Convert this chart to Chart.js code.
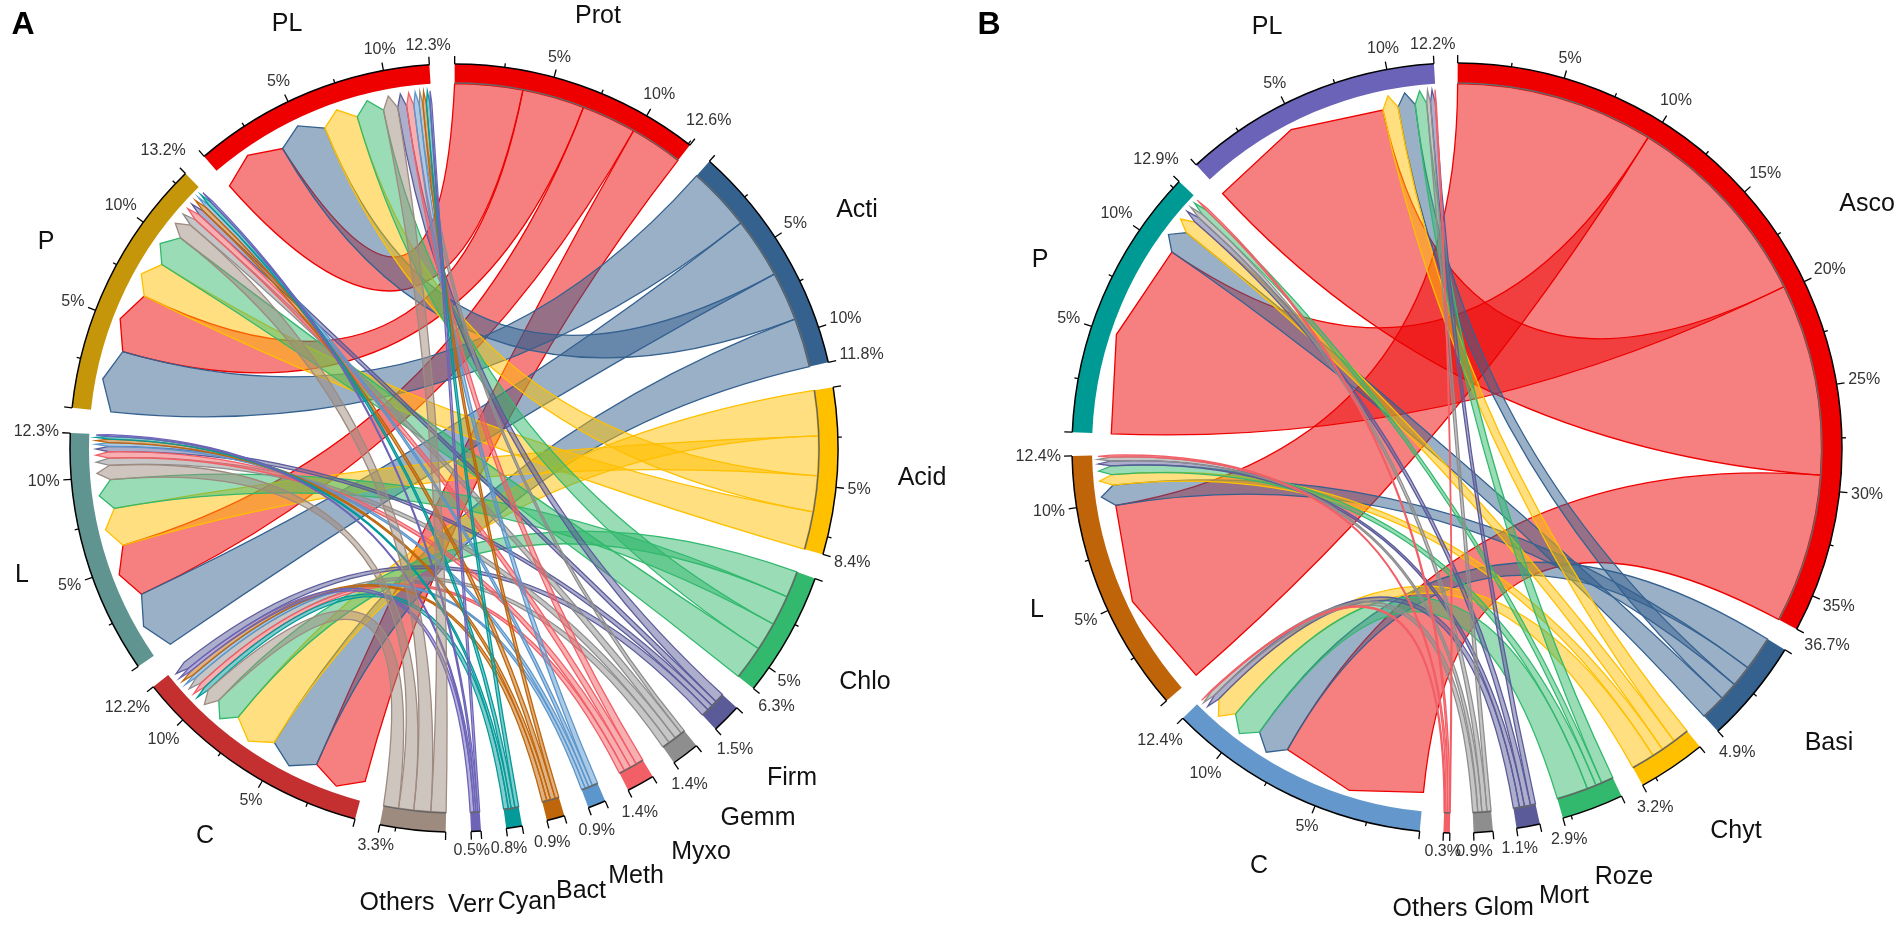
<!DOCTYPE html>
<html>
<head>
<meta charset="utf-8">
<title>Chord A B</title>
<script src="https://cdn.jsdelivr.net/npm/chart.js@4/dist/chart.umd.min.js"></script>
<style>
  html, body { margin: 0; padding: 0; background: #fff; overflow: hidden; }
  canvas { position: absolute; top: 0; }
  #chartA { left: 0; }
  #chartB { left: 960px; }
</style>
</head>
<body>
<canvas id="chartA" width="960" height="925"></canvas>
<canvas id="chartB" width="942" height="925"></canvas>
<script>
// panel A - sectors clockwise from the top
const aSectors = ['Prot','Acti','Acid','Chlo','Firm','Gemm','Myxo','Meth','Bact','Cyan','Verr','Others','C','L','P','PL'];
const aPercent = [12.6,11.8,8.4,6.3,1.5,1.4,1.4,0.9,0.9,0.8,0.5,3.3,12.2,12.3,13.2,12.3];
const aColors = ['#ee0000','#35618f','#ffc000','#33b96e','#5b5b9a','#8e8e8e','#f25f66','#5b96cc','#c0660a','#059a9a','#6d64b8','#9e8b80','#c43030','#5f9490','#c5960a','#ee0000'];
// links of each sample, clockwise inside its sector
const aOrderPL = ['Prot','Acti','Acid','Chlo','Others','Firm','Myxo','Meth','Gemm','Bact','Cyan','Verr'];
const aFlowPL = [3.6,2.6,1.9,1.5,0.8,0.5,0.4,0.3,0.2,0.2,0.2,0.1];
const aOrderP = ['Acti','Prot','Acid','Chlo','Others','Gemm','Myxo','Firm','Bact','Meth','Cyan','Verr'];
const aFlowP = [3.4,3.3,2.0,1.8,0.9,0.4,0.35,0.3,0.25,0.2,0.2,0.1];
const aOrderL = ['Acti','Prot','Acid','Chlo','Others','Gemm','Myxo','Firm','Meth','Bact','Cyan','Verr'];
const aFlowL = [3.2,2.9,2.1,1.6,0.8,0.4,0.35,0.3,0.2,0.2,0.15,0.1];
const aOrderC = ['Prot','Acti','Acid','Chlo','Others','Cyan','Myxo','Gemm','Meth','Bact','Verr','Firm'];
const aFlowC = [2.8,2.6,2.4,1.4,0.8,0.25,0.3,0.4,0.2,0.25,0.2,0.4];

// panel B
const bSectors = ['Asco','Basi','Chyt','Roze','Mort','Glom','Others','C','L','P','PL'];
const bPercent = [36.7,4.9,3.2,2.9,1.1,0.9,0.3,12.4,12.4,12.9,12.2];
const bColors = ['#ee0000','#35618f','#ffc000','#33b96e','#5b5b9a','#8e8e8e','#f25f66','#6498cc','#c0640a','#009a94','#6a63b8'];
const bOrderPL = ['Asco','Chyt','Basi','Roze','Glom','Mort','Others'];
const bFlowPL = [9.5,0.8,0.9,0.6,0.2,0.25,0.05];
const bOrderP = ['Asco','Basi','Chyt','Mort','Glom','Roze','Others'];
const bFlowP = [10,1.25,0.7,0.3,0.25,0.3,0.1];
const bOrderL = ['Asco','Basi','Chyt','Roze','Mort','Glom','Others'];
const bFlowL = [9.8,1.05,0.55,0.45,0.25,0.2,0.1];
const bOrderC = ['Asco','Basi','Roze','Chyt','Mort','Glom','Others'];
const bFlowC = [7.4,1.7,1.55,1.15,0.3,0.25,0.05];

const sampleNames = ['PL','P','L','C'];

// where the links sit in a phylum sector (clockwise), PL,P,L,C unless listed here
const aLinkOrder = { Acti: ['P','L','PL','C'], Acid: ['C','L','PL','P'], Chlo: ['C','L','PL','P'] };
const bLinkOrder = { Asco: ['L','P','PL','C'], Basi: ['C','L','PL','P'] };

// sector names were placed by hand in the figure, offsets from the circle centre
const aNameSpots = { Prot:[144,-432], Acti:[403,-238], Acid:[468,30], Chlo:[411,234], Firm:[338,330], Gemm:[304,370], Myxo:[247,404],
  Meth:[182,428], Bact:[127,443], Cyan:[73,454], Verr:[17,457], Others:[-57,455], C:[-249,388], L:[-432,127], P:[-408,-206], PL:[-167,-424] };
const bNameSpots = { Asco:[410,-244], Basi:[372,295], Chyt:[279,383], Roze:[167,429], Mort:[107,448], Glom:[47,460], Others:[-27,461],
  C:[-198,418], L:[-420,162], P:[-417,-188], PL:[-190,-421] };

const textFont = '"Liberation Sans", Arial, sans-serif';

function pt(c, r, a) {
  return [c.x + r * Math.cos(a), c.y + r * Math.sin(a)];
}

// bezier control goes to the centre when the two ends are far apart
function curveTo(ctx, c, r, a0, a1, rEnd) {
  let d = Math.atan2(Math.sin(a1 - a0), Math.cos(a1 - a0));
  const beta = Math.abs(d);
  const k = Math.max(0, 0.338 - 0.339 * beta);
  const ctrl = pt(c, r * k, a0 + d / 2);
  const end = pt(c, rEnd, a1);
  ctx.quadraticCurveTo(ctrl[0], ctrl[1], end[0], end[1]);
}

function sectorArc(chart, name, sectors) {
  return chart.getDatasetMeta(0).data[sectors.indexOf(name) * 2];
}

function drawRibbons(chart, cfg) {
  const ctx = chart.ctx;
  const first = chart.getDatasetMeta(0).data[0];
  const c = { x: first.x, y: first.y };
  const R = first.outerRadius;
  const rPhylum = first.innerRadius - 0.5;
  const rSample = R - 39, rTip = R - 26;

  // slice every sample sector first
  const sampleSpans = {};
  sampleNames.forEach(s => {
    const arc = sectorArc(chart, s, cfg.sectors);
    const flow = cfg.flows[s], order = cfg.orders[s];
    const total = flow.reduce((m, v) => m + v, 0);
    const step = (arc.endAngle - arc.startAngle) / total;
    let a = arc.startAngle;
    order.forEach((ph, i) => {
      sampleSpans[s + '|' + ph] = [a, a + flow[i] * step];
      a += flow[i] * step;
    });
  });

  cfg.sectors.forEach((ph, pi) => {
    if (sampleNames.includes(ph)) return;
    const arc = sectorArc(chart, ph, cfg.sectors);
    const links = cfg.linkOrder[ph] || sampleNames;
    const vals = links.map(s => cfg.flows[s][cfg.orders[s].indexOf(ph)]);
    const total = vals.reduce((m, v) => m + v, 0);
    const step = (arc.endAngle - arc.startAngle) / total;
    let a = arc.startAngle;
    links.forEach((s, i) => {
      const p0 = a, p1 = a + vals[i] * step;
      a = p1;
      const span = sampleSpans[s + '|' + ph];
      const s0 = span[0], s1 = span[1];
      ctx.beginPath();
      ctx.arc(c.x, c.y, rPhylum, p0, p1);
      curveTo(ctx, c, rPhylum, p1, s0, rSample);
      const tip = pt(c, rTip, (s0 + s1) / 2);
      ctx.lineTo(tip[0], tip[1]);
      const e = pt(c, rSample, s1);
      ctx.lineTo(e[0], e[1]);
      curveTo(ctx, c, rSample, s1, p0, rPhylum);
      ctx.closePath();
      ctx.globalAlpha = 0.5;
      ctx.fillStyle = cfg.colors[pi];
      ctx.fill();
      ctx.globalAlpha = 1;
      ctx.strokeStyle = cfg.colors[pi];
      ctx.lineWidth = 1.3;
      ctx.stroke();
    });
  });
}

function drawAxes(chart, cfg) {
  const ctx = chart.ctx;
  ctx.textAlign = 'center';
  ctx.textBaseline = 'middle';
  cfg.sectors.forEach((name, i) => {
    const arc = chart.getDatasetMeta(0).data[i * 2];
    const c = { x: arc.x, y: arc.y };
    const R = arc.outerRadius;
    const value = cfg.percent[i];
    const step = (arc.endAngle - arc.startAngle) / value;

    ctx.strokeStyle = '#000';
    ctx.lineWidth = 1.5;
    ctx.beginPath();
    ctx.arc(c.x, c.y, R, arc.startAngle, arc.endAngle);
    ctx.stroke();
    if (!sampleNames.includes(name)) {
      ctx.strokeStyle = '#666';
      ctx.beginPath();
      ctx.arc(c.x, c.y, arc.innerRadius, arc.startAngle, arc.endAngle);
      ctx.stroke();
    }

    // ticks every 2.5 %, labels every 5 % and at the sector end
    const ticks = [];
    for (let v = 0; v <= value; v += 2.5) ticks.push(v);
    if (ticks[ticks.length - 1] !== value) ticks.push(value);
    ticks.forEach(v => {
      const a = arc.startAngle + v * step;
      const major = v === value || v % 5 === 0;
      const p0 = pt(c, R, a), p1 = pt(c, R + (major ? 8 : 4), a);
      ctx.strokeStyle = '#000';
      ctx.lineWidth = 1.3;
      ctx.beginPath();
      ctx.moveTo(p0[0], p0[1]);
      ctx.lineTo(p1[0], p1[1]);
      ctx.stroke();
      if (!major || v === 0) return;
      const text = v + '%';
      ctx.font = '16px ' + textFont;
      ctx.fillStyle = '#333';
      const w = ctx.measureText(text).width;
      const rText = R + 11 + Math.abs(Math.cos(a)) * w / 2 + Math.abs(Math.sin(a)) * 7;
      const t = pt(c, rText, a);
      ctx.fillText(text, t[0], t[1]);
    });

    const spot = cfg.nameSpots[name];
    ctx.font = '25px ' + textFont;
    ctx.fillStyle = '#111';
    ctx.fillText(name, c.x + spot[0], c.y + spot[1]);
  });

  ctx.font = 'bold 32px ' + textFont;
  ctx.fillStyle = '#000';
  ctx.fillText(cfg.letter, cfg.letterX, 25);
}

const chordPlugin = {
  id: 'chord',
  beforeDatasetsDraw(chart, args, opts) { drawRibbons(chart, opts); },
  afterDatasetsDraw(chart, args, opts) { drawAxes(chart, opts); }
};

function makeChord(id, cfg) {
  const data = [], colors = [], labels = [];
  cfg.percent.forEach((v, i) => {
    data.push(v, cfg.gap);
    colors.push(cfg.colors[i], 'rgba(0,0,0,0)');
    labels.push(cfg.sectors[i], '');
  });
  new Chart(document.getElementById(id), {
    type: 'doughnut',
    data: { labels: labels, datasets: [{ data: data, backgroundColor: colors, borderWidth: 0 }] },
    options: {
      responsive: false,
      animation: false,
      rotation: cfg.rotation,
      radius: cfg.radius,
      cutout: (cfg.inner / cfg.radius * 100) + '%',
      layout: { padding: cfg.padding },
      plugins: { legend: { display: false }, tooltip: { enabled: false }, chord: cfg }
    },
    plugins: [chordPlugin]
  });
}

makeChord('chartA', {
  letter: 'A', letterX: 23,
  sectors: aSectors, percent: aPercent, colors: aColors, nameSpots: aNameSpots, linkOrder: aLinkOrder,
  flows: { PL: aFlowPL, P: aFlowP, L: aFlowL, C: aFlowC },
  orders: { PL: aOrderPL, P: aOrderP, L: aOrderL, C: aOrderC },
  gap: 1.26, rotation: 0.1, radius: 384, inner: 365,
  padding: { left: 0, right: 52, top: 0, bottom: 29 }
});

makeChord('chartB', {
  letter: 'B', letterX: 29,
  sectors: bSectors, percent: bPercent, colors: bColors, nameSpots: bNameSpots, linkOrder: bLinkOrder,
  flows: { PL: bFlowPL, P: bFlowP, L: bFlowL, C: bFlowC },
  orders: { PL: bOrderPL, P: bOrderP, L: bOrderL, C: bOrderC },
  gap: 1.1, rotation: 0.1, radius: 385, inner: 365,
  padding: { left: 52, right: 0, top: 0, bottom: 29 }
});
</script>
</body>
</html>
